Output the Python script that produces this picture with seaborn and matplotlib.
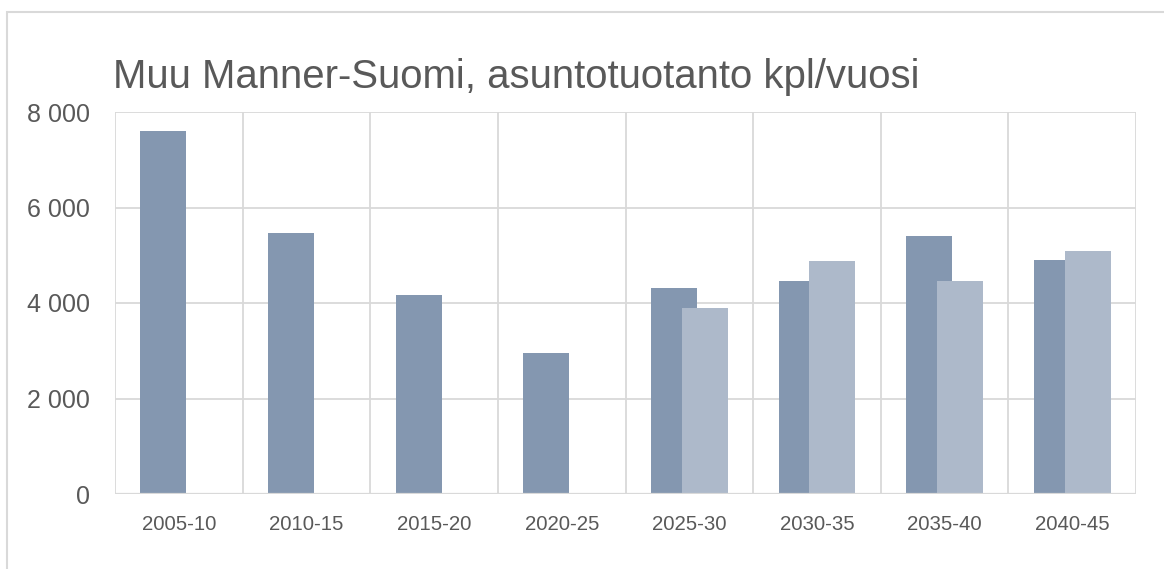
import numpy as np
import pandas as pd
import seaborn as sns
import matplotlib.pyplot as plt
from matplotlib.patches import Rectangle
from matplotlib.ticker import FuncFormatter

# Data
periods = ['2005-10', '2010-15', '2015-20', '2020-25',
           '2025-30', '2030-35', '2035-40', '2040-45']
toteutunut = [7600, 5470, 4170, 2950, 4310, 4460, 5400, 4900]
ennuste = [np.nan, np.nan, np.nan, np.nan, 3900, 4880, 4460, 5090]

title = 'Muu Manner-Suomi, asuntotuotanto kpl/vuosi'
yticks = [0, 2000, 4000, 6000, 8000]

dark = '#8497b0'
light = '#adb9ca'
grid = '#d9d9d9'
text_col = '#595959'

sns.set_style('white')
plt.rcParams['font.family'] = ['Liberation Sans', 'DejaVu Sans']

df = pd.DataFrame({'period': periods, 'a': toteutunut, 'b': ennuste})

fig = plt.figure(figsize=(11.64, 5.69), dpi=100)
ax = fig.add_axes([115 / 1164, 1 - 494 / 569, 1021 / 1164, 382 / 569])

bar_w = 0.36
shift = 0.121

# draw each series with seaborn, then slide the bars so they overlap like Excel
sns.barplot(data=df, x='period', y='a', color=dark, width=bar_w,
            saturation=1, ax=ax, zorder=3)
n_a = len(ax.patches)
sns.barplot(data=df, x='period', y='b', color=light, width=bar_w,
            saturation=1, ax=ax, zorder=4)
for i, p in enumerate(ax.patches):
    p.set_x(p.get_x() + (-shift if i < n_a else shift))
    p.set_linewidth(0)

ax.set_xlim(-0.5, len(periods) - 0.5)
ax.set_ylim(0, 8000)
ax.set_yticks(yticks)
ax.yaxis.set_major_formatter(FuncFormatter(lambda v, _: f'{int(v):,}'.replace(',', ' ')))

# gridlines: horizontal at ticks, vertical between categories
for y in yticks[1:]:
    ax.axhline(y, color=grid, lw=1.3, zorder=1)
for x in np.arange(-0.5, len(periods) + 0.5, 1):
    ax.axvline(x, color=grid, lw=1.3, zorder=1)

for s in ax.spines.values():
    s.set_visible(False)
ax.axhline(0, color=grid, lw=1.6, zorder=5)

ax.set_xlabel('')
ax.set_ylabel('')
ax.tick_params(axis='y', length=0, pad=18, labelsize=18, labelcolor=text_col)
ax.tick_params(axis='x', length=0, pad=15, labelsize=14.7, labelcolor=text_col)

fig.text(113 / 1164, 1 - 88 / 569, title, fontsize=28.9, color=text_col,
         va='baseline', ha='left')

# chart-area border (left and top visible in the reference)
fig.patches.append(Rectangle((7 / 1164, -0.1), 1.2, 1 - 12 / 569 + 0.1,
                             transform=fig.transFigure, fill=False,
                             edgecolor=grid, lw=1.5))

fig.savefig('out.png', dpi=100)
